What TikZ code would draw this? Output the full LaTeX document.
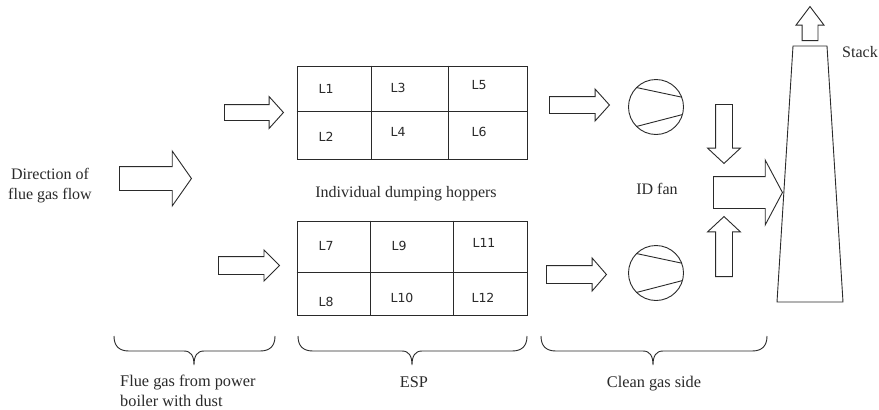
\documentclass[tikz,border=0pt]{standalone}
\usepackage{fontspec}
\setmainfont{Liberation Serif}
\newfontfamily\lanefont{DejaVu Sans}
\usetikzlibrary{positioning,shapes.geometric,shapes.arrows,calc}
\definecolor{ink}{HTML}{2A2A2A}
\tikzset{
  every node/.style={font=\fontsize{16}{20}\selectfont, text=ink},
  % --- shapes
  blk/.style n args={4}{single arrow, draw=ink, fill=white, line width=0.9pt,
                  inner sep=0pt, inner ysep=#1/2, minimum width=#2,
                  single arrow head extend={(#2-#1)/2}, minimum height=#3,
                  single arrow tip angle=#4, anchor=tail},
  espbox/.style = {draw=ink, line width=0.9pt, inner sep=0pt, minimum width=230},
  grid/.style   = {draw=ink, line width=0.9pt},
  fan/.style    = {circle, draw=ink, line width=0.9pt, inner sep=0pt, outer sep=0pt,
                   minimum size=55},
  lane/.style   = {font=\lanefont\fontsize{12.5}{14}\selectfont},
  lbl/.style    = {font=\fontsize{16}{20}\selectfont},
  note/.style   = {font=\fontsize{16.3}{20}\selectfont, align=left, inner sep=0pt},
  brace/.style  = {draw=ink, line width=0.9pt},
}
% brace under a group: left end, tip, right end
\newcommand{\gasbrace}[3]{%
  \draw[brace] (#1,336) .. controls (#1,346) and ($(#1,351)+(5,0)$) .. ($(#1,351)+(15,0)$)
    -- ($(#2,351)+(-10,0)$) .. controls ($(#2,351)+(-3,0)$) and (#2,356) .. (#2,365)
    .. controls (#2,356) and ($(#2,351)+(3,0)$) .. ($(#2,351)+(10,0)$)
    -- ($(#3,351)+(-15,0)$) .. controls ($(#3,351)+(-5,0)$) and (#3,346) .. (#3,336);}

\begin{document}
\begin{tikzpicture}[x=1pt,y=-1pt]
  \path[fill=white, use as bounding box] (0,0) rectangle (879,410);

  % inlet side
  \node[lbl, align=center] (dir) at (50,186) {Direction of\\flue gas flow};
  \node[blk={23}{54}{72}{110}] (inflow) at (119,178.5) {};
  \node[blk={15}{31}{59}{96}] (inA) at (224,112.5) {};
  \node[blk={17}{30}{61}{90}] (inB) at (218,265.5) {};

  % ESP fields
  \node[espbox, minimum height=93] (espA) at (412,112.5) {};
  \node[espbox, minimum height=94] (espB) at (412,268) {};
  \draw[grid] (371,0 |- espA.north) -- (371,0 |- espA.south);
  \draw[grid] (448,0 |- espA.north) -- (448,0 |- espA.south);
  \draw[grid] (espA.west |- 0,111) -- (espA.east |- 0,111);
  \draw[grid] (370,0 |- espB.north) -- (370,0 |- espB.south);
  \draw[grid] (453,0 |- espB.north) -- (453,0 |- espB.south);
  \draw[grid] (espB.west |- 0,272) -- (espB.east |- 0,272);
  \foreach \lab/\x/\y in {L1/326/89, L3/398/88, L5/479/85, L2/326/137, L4/398/132, L6/479/132,
                          L7/326/246, L9/399/246, L11/484/243, L8/326/302, L10/402/298, L12/483/298}
    \node[lane] (\lab) at (\x,\y) {\lab};
  \node[lbl, anchor=base] (hop) at (406,197) {Individual dumping hoppers};

  % ID fans
  \node[blk={16}{31}{60}{96}] (outA) at (549,105) {};
  \node[blk={17}{32}{60}{98}] (outB) at (546,274.5) {};
  \node[fan] (fanA) at (656,107) {};
  \node[fan] (fanB) at (656,273) {};
  \foreach \f in {fanA,fanB} {
    \draw[grid] (\f.135) -- (\f.21);
    \draw[grid] (\f.-135) -- (\f.-16);
  }
  \node[lbl, anchor=base] (idfan) at (657,194) {ID fan};

  % stack
  \node[blk={16}{32}{59}{94}, rotate=-90] (downA) at (724,104) {};
  \node[blk={16}{32}{60}{94}, rotate=90] (upB) at (724,277) {};
  \node[blk={31}{64}{69}{124}] (merge) at (713,192.5) {};
  \draw[grid, fill=white] (793,46) -- (827,46) -- (843,302) -- (777,302) -- cycle;
  \node[blk={15}{27}{34}{74}, rotate=90] (exhaust) at (810,41) {};
  \node[lbl, anchor=base west, inner xsep=0pt] (stk) at (842,57) {Stack};

  % groups
  \gasbrace{114}{194}{275}
  \gasbrace{298}{412}{527}
  \gasbrace{541}{653}{767}
  \node[note, anchor=west] (boiler) at (120,391) {Flue gas from power\\boiler with dust};
  \node[note, anchor=base] (esp) at (414,387) {ESP};
  \node[note, anchor=base] (clean) at (654,387) {Clean gas side};
\end{tikzpicture}
\end{document}
